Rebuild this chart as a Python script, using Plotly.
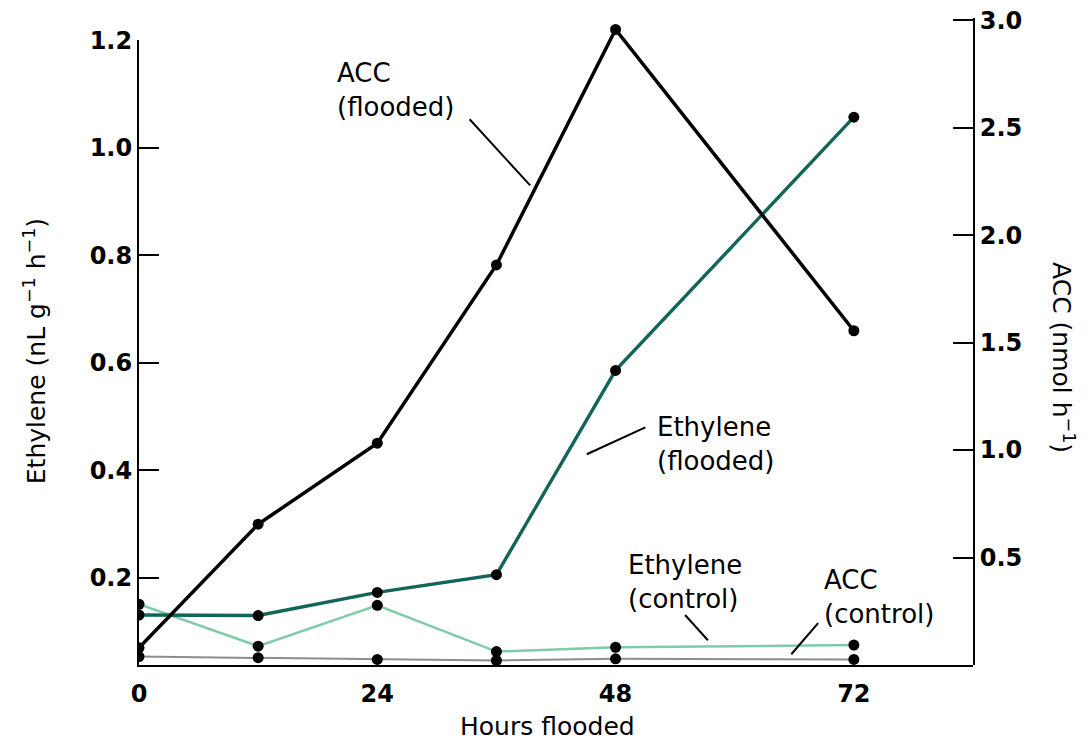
import plotly.graph_objects as go

# ---- data ----
hours = [0, 12, 24, 36, 48, 72]
ethylene_flooded = [0.131, 0.130, 0.173, 0.206, 0.586, 1.057]   # left axis (nL g-1 h-1)
ethylene_control = [0.151, 0.073, 0.149, 0.063, 0.071, 0.075]   # left axis
acc_flooded = [0.080, 0.655, 1.032, 1.861, 2.957, 1.555]         # right axis (nmol h-1)
acc_control = [0.039, 0.034, 0.026, 0.021, 0.029, 0.026]         # right axis

x_ticks = [0, 24, 48, 72]
left_ticks = [0.2, 0.4, 0.6, 0.8, 1.0, 1.2]
right_ticks = [0.5, 1.0, 1.5, 2.0, 2.5, 3.0]

FONT = "DejaVu Sans"
marker = dict(color="black", size=11, symbol="circle")

fig = go.Figure()

fig.add_trace(go.Scatter(x=hours, y=acc_control, xaxis="x2", yaxis="y2", mode="lines+markers",
                         line=dict(color="#8c8c8c", width=2), marker=marker, name="ACC (control)"))
fig.add_trace(go.Scatter(x=hours, y=ethylene_control, mode="lines+markers",
                         line=dict(color="#7fcba9", width=2.5), marker=marker, name="Ethylene (control)"))
fig.add_trace(go.Scatter(x=hours, y=ethylene_flooded, mode="lines+markers",
                         line=dict(color="#136557", width=3.4), marker=marker, name="Ethylene (flooded)"))
fig.add_trace(go.Scatter(x=hours, y=acc_flooded, xaxis="x2", yaxis="y2",
                         mode="lines+markers", line=dict(color="black", width=3.5), marker=marker,
                         name="ACC (flooded)"))

xr = [0, 84]
tickfont = dict(family=FONT, size=24, weight="bold")
# page body has an 8px margin, so the figure is sized/offset to land the plot at the reference position
fig.update_layout(
    width=1084, height=737,
    margin=dict(l=131, r=119, t=10, b=80, autoexpand=False),
    paper_bgcolor="white", plot_bgcolor="rgba(0,0,0,0)",
    showlegend=False,
    font=dict(family=FONT, color="black", size=24),
    xaxis=dict(domain=[0, 1], range=xr, tickvals=x_ticks, ticktext=[str(v) for v in x_ticks],
               showline=True, linecolor="black", linewidth=2, ticks="", showgrid=False, zeroline=False,
               tickfont=tickfont, ticklabelstandoff=6, anchor="y", automargin=False),
    yaxis=dict(domain=[0, 0.966], range=[0.038, 1.2005], tickvals=left_ticks,
               ticktext=[f"{v:.1f}" for v in left_ticks],
               showline=True, linecolor="black", linewidth=2, ticks="inside", ticklen=20, tickwidth=2,
               tickcolor="black", showgrid=False, zeroline=False, anchor="x", automargin=False,
               tickfont=tickfont, ticklabeloverflow="allow"),
    xaxis2=dict(domain=[0, 1], range=xr, visible=False, anchor="y2", automargin=False),
    yaxis2=dict(domain=[0, 1], range=[0, 3.01], tickvals=right_ticks,
                ticktext=[f"{v:.1f}" for v in right_ticks], side="right", anchor="x2",
                showline=True, linecolor="black", linewidth=2, ticks="inside", ticklen=20, tickwidth=2,
                tickcolor="black", showgrid=False, zeroline=False, automargin=False,
                tickfont=tickfont, ticklabeloverflow="allow"),
)

# axis titles
fig.add_annotation(text="Hours flooded", xref="paper", yref="paper", x=0.5, y=0, xshift=-9, yshift=-61,
                   showarrow=False, xanchor="center", yanchor="middle", font=dict(size=25))
fig.add_annotation(text="Ethylene (nL g<sup>−1</sup> h<sup>−1</sup>)", xref="paper", yref="paper",
                   x=0, y=0.485, xshift=-104, textangle=-90, showarrow=False,
                   xanchor="center", yanchor="middle", font=dict(size=25))
fig.add_annotation(text="ACC (nmol h<sup>−1</sup>)", xref="paper", yref="paper",
                   x=1, y=0.476, xshift=90, textangle=90, showarrow=False,
                   xanchor="center", yanchor="middle", font=dict(size=25))

# series labels with leader lines
labels = [
    ("ACC<br>(flooded)", 19.7, 1.107, (33.3, 1.053), (39.4, 0.930)),
    ("Ethylene<br>(flooded)", 52.0, 0.449, (51.0, 0.480), (45.1, 0.430)),
    ("Ethylene<br>(control)", 49.0, 0.192, (55.0, 0.131), (57.3, 0.084)),
    ("ACC<br>(control)", 68.8, 0.164, (68.4, 0.116), (65.7, 0.058)),
]
for txt, lx, ly, p0, p1 in labels:
    fig.add_annotation(text=txt, x=lx, y=ly, xref="x", yref="y", showarrow=False,
                       xanchor="left", yanchor="middle", align="left", font=dict(size=26))
    fig.add_shape(type="line", xref="x", yref="y", x0=p0[0], y0=p0[1], x1=p1[0], y1=p1[1],
                  line=dict(color="black", width=2))

fig.write_html("out.html")
